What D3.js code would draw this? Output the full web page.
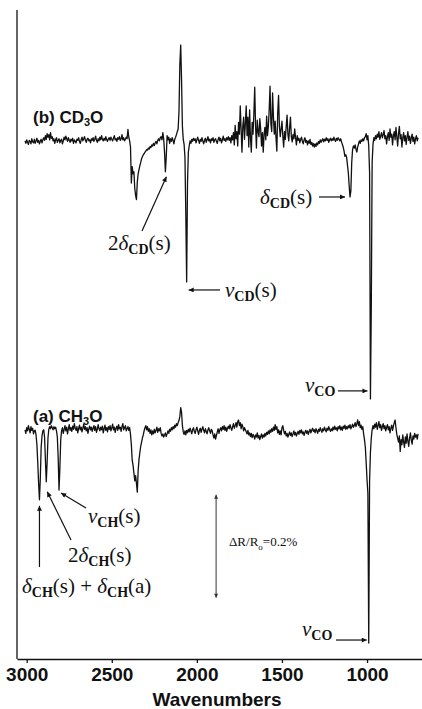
<!DOCTYPE html>
<html>
<head>
<meta charset="utf-8">
<script src="https://cdn.jsdelivr.net/npm/d3@7/dist/d3.min.js"></script>
<style>
  html, body { margin: 0; padding: 0; background: #fff; }
  svg { display: block; }
</style>
</head>
<body>
<svg id="chart" width="422" height="709"></svg>
<script>
// Sampling grid of the spectra, cm^-1 (3010 down to 700, every 5 cm^-1)
const wavenumbers = d3.range(3010, 695, -5);

// Tick labels of the wavenumber axis
const xTicks = [3000, 2500, 2000, 1500, 1000];

// Trace labels and vertical offsets (ΔR/R in units of 0.001 %)
const traceNames = ["(a) CH₃O", "(b) CD₃O"];
const traceOffsets = [0, 563];

// (b) CD3O spectrum, ΔR/R in units of 0.001 %, one value per grid point
const cd3oSignal = [
  2, -3, 4, -1, -5, 3, 1, -4, 6, 0, -2, 5, -3, 2, 7, -1, 3, -4, 1, 5,
  -2, 4, 8, 3, 12, 5, 16, 9, 14, 4, 18, 7, 10, 2, 6, -3, 4, 8, -1, 3,
  6, -2, 3, 5, -4, 2, 9, 4, 11, 6, 1, 8, 3, -1, 5, 2, 7, -3, 4, 1,
  -2, 5, 3, 8, 1, -3, 4, 9, 2, 6, 10, 3, -1, 5, 7, 2, 4, -2, 6, 3,
  8, 1, 5, 11, 3, -1, 6, 2, 9, 4, 12, 5, 2, 7, 3, 10, 4, 1, 6, 8,
  3, 9, 5, 2, 7, 12, 4, 6, 1, 8, 5, 10, 3, 6, 14, 4, 8, 2, 5, 9,
  6, 24, 9, 2, -10, -80, -48, -62, -58, -90, -104, -112, -78, -62, -54, -46, -40, -33, -29, -25,
  -23, -20, -18, -15, -16, -12, -14, -9, -11, -6, -8, -3, -7, -2, 1, -4, 3, 6, 2, 8,
  10, 4, 18, 6, -20, -58, -30, 12, 4, 9, -3, 6, 1, 8, 3, -4, 5, 9, 14, 20,
  25, 60, 150, 188, 120, 30, 5, -5, -30, -140, -272, -80, -20, -8, 2, -3, 5, 1, 7, 3,
  6, -2, 4, 9, 3, -3, 5, 1, 8, 2, -4, 3, 7, -1, 4, 10, 2, 5, -2, 6,
  3, 8, -1, 4, 6, 1, -3, 5, 9, 2, 7, -2, 4, 11, 3, 6, 1, 8, 4, 10,
  3, 8, -2, 12, 4, 18, -6, 32, 6, 20, -8, 38, 15, 70, 25, -20, 30, 48, 5, 35,
  70, 12, 48, -10, 62, 8, -20, 38, 15, 55, 106, 30, -12, 42, 20, 10, 45, 25, -8, 18,
  -20, 15, 28, 4, 50, 12, 30, 62, 108, 35, 20, 95, 48, 15, 40, 8, -18, 55, 90, 30,
  10, 25, 40, 12, -10, 20, 5, 30, 52, 15, 2, 28, 48, 10, 0, 14, 6, 25, 8, -6,
  12, 3, 7, -2, 5, 9, 1, -4, 4, 8, -1, 3, -6, 2, -3, 5, -5, -1, -8, -3,
  -10, -4, -9, -2, -6, 1, -3, 4, -1, 3, 6, 0, 5, 2, 8, 3, 6, -1, 4, 7,
  2, 6, 3, 9, 4, 1, 7, 3, 8, 5, 2, 6, 0, -5, -10, -18, -28, -25, -30, -45,
  -60, -85, -107, -95, -40, -15, -8, -12, -6, -14, -20, -10, -4, 2, -3, 4, 1, 6, 2, 8,
  10, 16, 4, 12, -8, -60, -499, -320, -40, -5, 8, 3, 12, 6, 15, 9, 20, 5, 11, 18,
  8, 14, 22, 6, 12, -4, 10, 18, 3, 25, 9, 15, -6, 12, 20, 4, 28, 10, -8, 16,
  30, 6, 14, -10, 8, 18, 2, 12, -5, 9, 20, 3, 11, -3, 7, 15, 1, 9, -4, 6,
  12, 2, 8
];

// (a) CH3O spectrum, ΔR/R in units of 0.001 %, one value per grid point
const ch3oSignal = [
  4, -3, 8, 2, 12, 5, -2, 10, 3, 7, -4, 2, 3, -6, -25, -60, -100, -132, -90, -30,
  -8, 2, 4, -10, -55, -97, -60, -12, 5, 10, 6, 12, 8, 4, 10, 6, 9, 2, -10, -50,
  -113, -70, -15, 2, 8, -3, 5, 12, 2, 9, -4, 6, 14, 3, 8, 1, 11, 5, 16, 7,
  3, 10, -2, 6, 13, 4, 9, 0, 7, 15, 5, 10, 2, 8, -3, 6, 11, 4, 9, 1,
  7, 12, 3, 10, -1, 5, 14, 6, 2, 9, 4, 11, -2, 6, 13, 3, 8, 0, 10, 5,
  12, 2, 8, 15, 4, 9, -1, 7, 11, 3, 14, 6, 9, 1, 10, 16, 4, 8, 12, 2,
  6, 10, 3, 8, -5, -25, -55, -65, -80, -95, -85, -100, -117, -75, -54, -40, -28, -20, -12, -6,
  2, 8, 12, 4, 10, 1, 6, -3, 4, -6, 2, -4, 5, -2, 3, 9, -1, 6, 2, 8,
  -3, -8, -4, -10, -6, -2, -9, -4, 2, -3, 5, 1, 8, 4, 10, 6, 13, 9, 16, 12,
  18, 22, 30, 47, 38, 12, 0, -5, 2, -6, 3, -2, 5, 0, 7, 2, -4, 4, 8, 1,
  -3, 4, 9, 2, -5, 3, 7, -1, 5, 10, 3, -2, 6, 1, -4, 4, 8, 2, -3, 5,
  2, -6, -12, -4, -14, -7, 0, 6, -3, 4, 8, 2, 10, 5, 12, 3, 9, 1, 7, 11,
  6, 14, 8, 3, 10, 16, 7, 12, 18, 9, 20, 23, 12, 18, 6, 15, 10, 2, 8, 4,
  0, -4, 3, -6, -2, -9, -3, -11, -5, -8, -14, -6, -10, -2, -12, -7, -15, -9, -4, -12,
  -6, -10, -3, -8, -1, -5, 2, -4, 4, -1, 6, 1, 9, 3, 14, 5, 10, -2, 4, -5,
  2, -6, 8, 12, 3, -4, 1, -8, -3, -10, -5, 0, -7, -2, -9, -4, 2, -6, -1, -8,
  -3, 1, -5, 3, -2, 4, -4, 0, -7, -1, 3, -3, 2, -5, 1, 5, -2, 3, 7, 1,
  4, -2, 6, 2, -3, 5, 1, 8, 3, -1, 6, 2, 9, 4, 0, 7, 3, 10, 5, 1,
  6, 2, 9, 4, 11, 5, 8, 2, 10, 6, 12, 4, 9, 3, 11, 7, 13, 5, 10, 6,
  12, 8, 14, 6, 10, 15, 9, 12, 18, 10, 16, 23, 12, 20, 8, 13, 5, 10, -4, -15,
  -30, -60, -93, -120, -410, -95, -40, -12, 4, 12, 6, 15, 9, 18, 5, 12, 20, 8, 14, 3,
  10, 16, 6, 12, 2, 9, 14, 4, 10, -2, 7, 13, 3, 11, 18, 23, 8, -5, -12, -20,
  -8, -38, -15, -25, -6, -20, -30, -10, -22, -4, -18, -28, -12, -2, -16, -24, -8, -14, -3, -10,
  -6, -14, -4
];

// Scale bar: ΔR/R = 0.2 % (200 units), placed at 1887 cm^-1
const scaleBar = { w: 1887, top: -122, size: 200 };

const svg = d3.select("#chart");
const W = 422, H = 709;
svg.append("rect").attr("width", W).attr("height", H).attr("fill", "#fff");

const sans = "'Liberation Sans', Arial, Helvetica, sans-serif";
const serif = "'Liberation Serif', 'Times New Roman', Times, serif";
const ink = "#111";

// Scales: wavenumber axis runs right-to-left
const x = d3.scaleLinear().domain([3057, 677]).range([17, 422]);
const y = d3.scaleLinear().domain([-441, 819]).range([659, 10]);

// Arrowhead markers
const defs = svg.append("defs");
defs.append("marker")
  .attr("id", "head").attr("viewBox", "0 0 10 10")
  .attr("refX", 10).attr("refY", 5)
  .attr("markerUnits", "userSpaceOnUse")
  .attr("markerWidth", 7).attr("markerHeight", 5)
  .attr("orient", "auto")
  .append("path").attr("d", "M0,0L10,5L0,10z").attr("fill", ink);
defs.append("marker")
  .attr("id", "headSmall").attr("viewBox", "0 0 10 10")
  .attr("refX", 10).attr("refY", 5)
  .attr("markerUnits", "userSpaceOnUse")
  .attr("markerWidth", 5).attr("markerHeight", 4)
  .attr("orient", "auto-start-reverse")
  .append("path").attr("d", "M0,0L10,5L0,10z").attr("fill", "#333");

// Left spine
svg.append("line")
  .attr("x1", 17).attr("x2", 17).attr("y1", 10).attr("y2", 659)
  .attr("stroke", ink).attr("stroke-width", 1.3);

// Bottom axis
const xAxis = svg.append("g")
  .attr("transform", "translate(0,659)")
  .call(d3.axisBottom(x).tickValues(xTicks).tickSize(4).tickSizeOuter(0).tickPadding(5).tickFormat(d3.format("d")));
xAxis.select(".domain").attr("stroke", ink).attr("stroke-width", 1.3);
xAxis.selectAll(".tick line").attr("stroke", ink).attr("stroke-width", 1.3);
xAxis.selectAll(".tick text")
  .attr("fill", ink).attr("font-family", sans).attr("font-size", 19).attr("font-weight", "bold");

svg.append("text")
  .attr("x", 217).attr("y", 706).attr("text-anchor", "middle")
  .attr("font-family", sans).attr("font-size", 19).attr("font-weight", "bold").attr("fill", ink)
  .text("Wavenumbers");

// Spectra
const signals = [ch3oSignal, cd3oSignal];
const n = Math.min(wavenumbers.length, ch3oSignal.length, cd3oSignal.length);
signals.forEach((sig, k) => {
  const pts = d3.range(n).map(i => [wavenumbers[i], sig[i] + traceOffsets[k]]);
  svg.append("path")
    .datum(pts)
    .attr("fill", "none").attr("stroke", ink).attr("stroke-width", 1.3)
    .attr("stroke-linejoin", "round")
    .attr("d", d3.line().x(d => x(d[0])).y(d => y(d[1])));
});

// Trace names, e.g. "(b) CD₃O" with a lowered subscript digit
function traceLabel(txt, px, py) {
  const t = svg.append("text").attr("x", px).attr("y", py)
    .attr("font-family", sans).attr("font-size", 17).attr("font-weight", "bold").attr("fill", ink);
  const m = txt.match(/^(.*?)([₀-₉])(.*)$/);
  const digits = "₀₁₂₃₄₅₆₇₈₉";
  t.append("tspan").text(m[1]);
  t.append("tspan").attr("font-size", 11).attr("dy", 3).text(String(digits.indexOf(m[2])));
  t.append("tspan").attr("dy", -3).text(m[3]);
}
traceLabel(traceNames[1], 33, 123);
traceLabel(traceNames[0], 33, 422);

// Serif labels with italic Greek letters and bold subscripts
function rich(px, py, parts, size = 21, subSize = 14) {
  const t = svg.append("text").attr("x", px).attr("y", py)
    .attr("font-family", serif).attr("font-size", size).attr("fill", ink);
  let shift = 0;
  parts.forEach(p => {
    const target = p.sub ? 4 : 0;
    const s = t.append("tspan").attr("dy", target - shift).text(p.t);
    shift = target;
    if (p.sub) s.attr("font-size", subSize).attr("font-weight", "bold");
    if (p.it) s.attr("font-style", "italic");
  });
  return t;
}
function arrow(x1, y1, x2, y2) {
  svg.append("line")
    .attr("x1", x1).attr("y1", y1).attr("x2", x2).attr("y2", y2)
    .attr("stroke", ink).attr("stroke-width", 1.2)
    .attr("marker-end", "url(#head)");
}

const B = traceOffsets[1];

// (b) annotations
rich(108, 250, [{ t: "2" }, { t: "δ", it: true }, { t: "CD", sub: true }, { t: "(s)" }]);
arrow(142, 231, x(2185) + 1, y(B - 58) + 5);

rich(225, 297, [{ t: "ν", it: true }, { t: "CD", sub: true }, { t: "(s)" }]);
arrow(220, y(B - 272) + 8, x(2060) + 2, y(B - 272) + 8);

rich(260, 204, [{ t: "δ", it: true }, { t: "CD", sub: true }, { t: "(s)" }]);
arrow(319, y(B - 107), x(1100) - 5, y(B - 107));

rich(305, 392, [{ t: "ν", it: true }, { t: "CO", sub: true }]);
arrow(338, y(B - 499) - 8, x(980) - 3, y(B - 499) - 8);

// (a) annotations
rich(88, 523, [{ t: "ν", it: true }, { t: "CH", sub: true }, { t: "(s)" }]);
arrow(86, 508, x(2810) + 2, y(-113) + 3);

rich(68, 562, [{ t: "2" }, { t: "δ", it: true }, { t: "CH", sub: true }, { t: "(s)" }]);
arrow(71, 540, x(2885) + 1, y(-97) + 10);

rich(22, 593, [{ t: "δ", it: true }, { t: "CH", sub: true }, { t: "(s) + " },
               { t: "δ", it: true }, { t: "CH", sub: true }, { t: "(a)" }]);
arrow(x(2925), 567, x(2925), y(-132) + 6);

rich(302, 636, [{ t: "ν", it: true }, { t: "CO", sub: true }]);
arrow(336, y(-410) - 3, x(990) - 2, y(-410) - 3);

// Scale bar ΔR/R0 = 0.2 %
const sbX = x(scaleBar.w);
svg.append("line")
  .attr("x1", sbX).attr("x2", sbX)
  .attr("y1", y(scaleBar.top)).attr("y2", y(scaleBar.top - scaleBar.size))
  .attr("stroke", "#333").attr("stroke-width", 1)
  .attr("marker-start", "url(#headSmall)").attr("marker-end", "url(#headSmall)");
const sb = svg.append("text").attr("x", 229).attr("y", 546)
  .attr("font-family", serif).attr("font-size", 13).attr("fill", ink);
sb.append("tspan").text("ΔR/R");
sb.append("tspan").attr("font-size", 9).attr("dy", 4).text("o");
sb.append("tspan").attr("dy", -4).text("=0.2%");
</script>
</body>
</html>
